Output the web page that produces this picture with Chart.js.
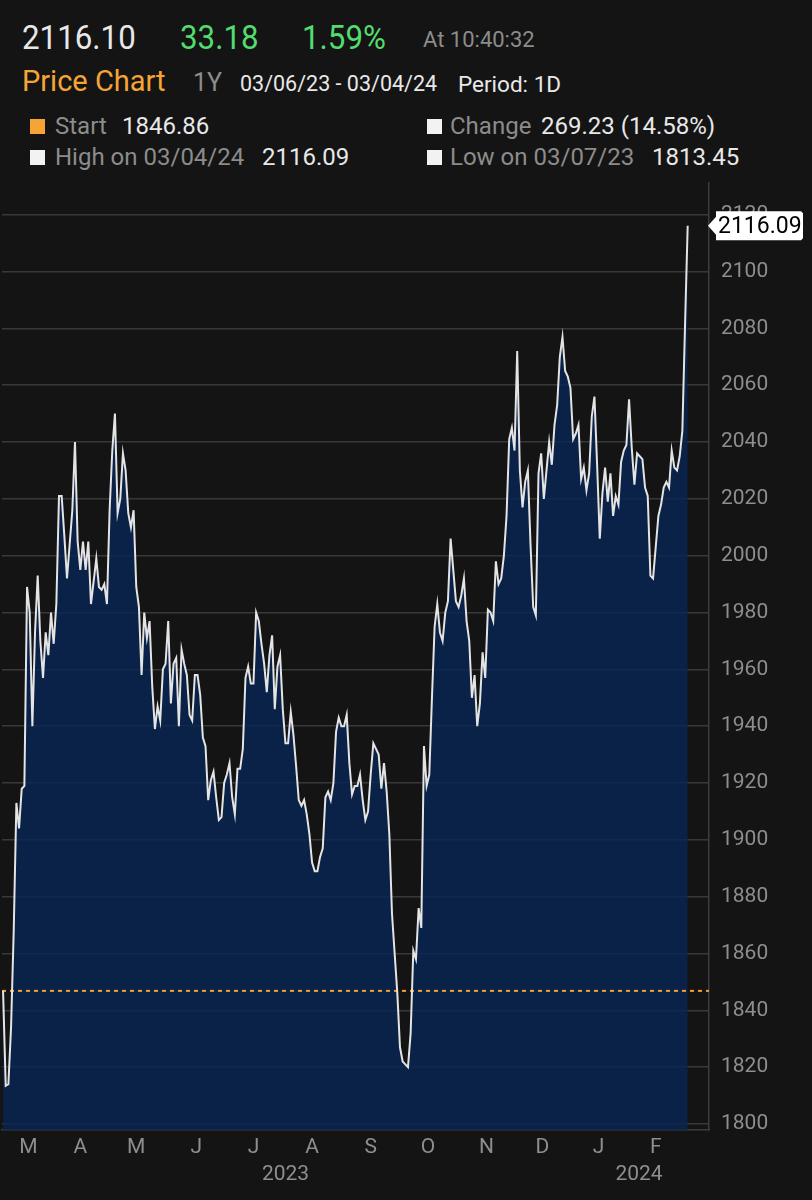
<!DOCTYPE html>
<html>
<head>
<meta charset="utf-8">
<script src="https://cdn.jsdelivr.net/npm/chart.js@4.4.1/dist/chart.umd.min.js"></script>
<style>
  html, body { margin: 0; padding: 0; background: #141414; }
  body { width: 812px; height: 1200px; position: relative; overflow: hidden; font-family: Roboto, 'Liberation Sans', sans-serif; }
  .t { position: absolute; white-space: nowrap; line-height: 1; }
  .big { font-size: 34px; transform: scaleX(0.92); transform-origin: left center; }
  .w { color: #e8e8e8; }
  .g { color: #8c8c8c; }
  .gr { color: #52dc6e; }
  .o { color: #f6a535; }
  .sq { position: absolute; width: 15px; height: 15px; }
  #chart { position: absolute; left: 0; top: 158px; }
</style>
</head>
<body>
  <div class="t w big" style="left:22px; top:20px">2116.10</div>
  <div class="t gr big" style="left:180px; top:20px">33.18</div>
  <div class="t gr big" style="left:302px; top:20px">1.59%</div>
  <div class="t g" style="left:423px; top:29px; font-size:22px">At 10:40:32</div>

  <div class="t o" style="left:22px; top:67px; font-size:29px">Price Chart</div>
  <div class="t g" style="left:193px; top:70px; font-size:25px">1Y</div>
  <div class="t w" style="left:240px; top:73px; font-size:21.5px">03/06/23 - 03/04/24</div>
  <div class="t w" style="left:458px; top:73px; font-size:22.5px">Period: 1D</div>

  <div class="sq" style="left:30px; top:119px; background:#f6a535"></div>
  <div class="t g" style="left:55px; top:114px; font-size:24px">Start</div>
  <div class="t w" style="left:122px; top:114px; font-size:24px">1846.86</div>
  <div class="sq" style="left:427px; top:119px; background:#f2f2f2"></div>
  <div class="t g" style="left:450px; top:114px; font-size:24px">Change</div>
  <div class="t w" style="left:541px; top:114px; font-size:24px">269.23 (14.58%)</div>

  <div class="sq" style="left:30px; top:150px; background:#f2f2f2"></div>
  <div class="t g" style="left:55px; top:145px; font-size:24px">High on 03/04/24</div>
  <div class="t w" style="left:262px; top:145px; font-size:24px">2116.09</div>
  <div class="sq" style="left:427px; top:150px; background:#f2f2f2"></div>
  <div class="t g" style="left:450px; top:145px; font-size:24px">Low on 03/07/23</div>
  <div class="t w" style="left:652px; top:145px; font-size:24px">1813.45</div>

  <canvas id="chart" width="812" height="1042"></canvas>

<script>
// trading days shown on the chart
const dates = [
  '2023-03-06','2023-03-07','2023-03-08','2023-03-09','2023-03-10','2023-03-13','2023-03-14','2023-03-15','2023-03-16','2023-03-17','2023-03-20','2023-03-21','2023-03-22','2023-03-23','2023-03-24','2023-03-27','2023-03-28','2023-03-29','2023-03-30','2023-03-31',
  '2023-04-03','2023-04-04','2023-04-05','2023-04-06','2023-04-10','2023-04-11','2023-04-12','2023-04-13','2023-04-14','2023-04-17','2023-04-18','2023-04-19','2023-04-20','2023-04-21','2023-04-24','2023-04-25','2023-04-26','2023-04-27','2023-04-28',
  '2023-05-01','2023-05-02','2023-05-03','2023-05-04','2023-05-05','2023-05-08','2023-05-09','2023-05-10','2023-05-11','2023-05-12','2023-05-15','2023-05-16','2023-05-17','2023-05-18','2023-05-19','2023-05-22','2023-05-23','2023-05-24','2023-05-25','2023-05-26','2023-05-29','2023-05-30','2023-05-31',
  '2023-06-01','2023-06-02','2023-06-05','2023-06-06','2023-06-07','2023-06-08','2023-06-09','2023-06-12','2023-06-13','2023-06-14','2023-06-15','2023-06-16','2023-06-19','2023-06-20','2023-06-21','2023-06-22','2023-06-23','2023-06-26','2023-06-27','2023-06-28','2023-06-29','2023-06-30',
  '2023-07-03','2023-07-04','2023-07-05','2023-07-06','2023-07-07','2023-07-10','2023-07-11','2023-07-12','2023-07-13','2023-07-14','2023-07-17','2023-07-18','2023-07-19','2023-07-20','2023-07-21','2023-07-24','2023-07-25','2023-07-26','2023-07-27','2023-07-28','2023-07-31',
  '2023-08-01','2023-08-02','2023-08-03','2023-08-04','2023-08-07','2023-08-08','2023-08-09','2023-08-10','2023-08-11','2023-08-14','2023-08-15','2023-08-16','2023-08-17','2023-08-18','2023-08-21','2023-08-22','2023-08-23','2023-08-24','2023-08-25','2023-08-28','2023-08-29','2023-08-30','2023-08-31',
  '2023-09-01','2023-09-04','2023-09-05','2023-09-06','2023-09-07','2023-09-08','2023-09-11','2023-09-12','2023-09-13','2023-09-14','2023-09-15','2023-09-18','2023-09-19','2023-09-20','2023-09-21','2023-09-22','2023-09-25','2023-09-26','2023-09-27','2023-09-28','2023-09-29',
  '2023-10-02','2023-10-03','2023-10-04','2023-10-05','2023-10-06','2023-10-09','2023-10-10','2023-10-11','2023-10-12','2023-10-13','2023-10-16','2023-10-17','2023-10-18','2023-10-19','2023-10-20','2023-10-23','2023-10-24','2023-10-25','2023-10-26','2023-10-27','2023-10-30','2023-10-31',
  '2023-11-01','2023-11-02','2023-11-03','2023-11-06','2023-11-07','2023-11-08','2023-11-09','2023-11-10','2023-11-13','2023-11-14','2023-11-15','2023-11-16','2023-11-17','2023-11-20','2023-11-21','2023-11-22','2023-11-23','2023-11-24','2023-11-27','2023-11-28','2023-11-29','2023-11-30',
  '2023-12-01','2023-12-04','2023-12-05','2023-12-06','2023-12-07','2023-12-08','2023-12-11','2023-12-12','2023-12-13','2023-12-14','2023-12-15','2023-12-18','2023-12-19','2023-12-20','2023-12-21','2023-12-22','2023-12-26','2023-12-27','2023-12-28','2023-12-29',
  '2024-01-02','2024-01-03','2024-01-04','2024-01-05','2024-01-08','2024-01-09','2024-01-10','2024-01-11','2024-01-12','2024-01-15','2024-01-16','2024-01-17','2024-01-18','2024-01-19','2024-01-22','2024-01-23','2024-01-24','2024-01-25','2024-01-26','2024-01-29','2024-01-30','2024-01-31',
  '2024-02-01','2024-02-02','2024-02-05','2024-02-06','2024-02-07','2024-02-08','2024-02-09','2024-02-12','2024-02-13','2024-02-14','2024-02-15','2024-02-16','2024-02-19','2024-02-20','2024-02-21','2024-02-22','2024-02-23','2024-02-26','2024-02-27','2024-02-28','2024-02-29',
  '2024-03-01','2024-03-04'
]

// daily closes
const prices = [
  1846.86, 1813.45, 1814, 1834, 1868, 1913, 1904, 1918, 1919, 1989, 1980, 1940, 1973, 1993, 1970, 1957, 1973, 1965, 1980, 1969,
  1983, 2021, 2021, 2007, 1992, 2004, 2016, 2040, 2005, 1995, 2005, 1995, 2005, 1983, 1991, 1999, 1989, 1988, 1990,
  1983, 2016, 2037, 2050, 2015, 2020, 2036, 2030, 2015, 2010, 2016, 1989, 1982, 1958, 1980, 1971, 1977, 1954, 1939, 1947, 1942, 1960, 1962,
  1977, 1948, 1962, 1964, 1940, 1967, 1962, 1958, 1944, 1942, 1958, 1958, 1951, 1936, 1933, 1914, 1921, 1924, 1915, 1907, 1908, 1920,
  1923, 1927, 1915, 1909, 1925, 1925, 1932, 1957, 1961, 1955, 1955, 1980, 1977, 1969, 1962, 1952, 1965, 1972, 1946, 1961, 1965,
  1946, 1934, 1934, 1945, 1937, 1926, 1914, 1912, 1914, 1909, 1902, 1892, 1889, 1889, 1894, 1897, 1915, 1917, 1914, 1920, 1938, 1943, 1940,
  1940, 1944, 1927, 1916, 1919, 1919, 1923, 1914, 1907, 1910, 1923, 1934, 1932, 1930, 1918, 1927, 1917, 1902, 1874, 1860, 1846,
  1827, 1822, 1821, 1820, 1832, 1861, 1858, 1876, 1869, 1933, 1919, 1923, 1950, 1975, 1983, 1973, 1970, 1980, 1984, 2006, 1995, 1984,
  1982, 1986, 1992, 1977, 1970, 1950, 1958, 1940, 1948, 1966, 1957, 1981, 1980, 1977, 1998, 1990, 1992, 2000, 2014, 2041, 2045, 2037,
  2072, 2030, 2017, 2026, 2030, 2004, 1982, 1979, 2029, 2036, 2020, 2030, 2040, 2032, 2046, 2053, 2070, 2077, 2065, 2063,
  2059, 2041, 2043, 2046, 2027, 2031, 2023, 2029, 2049, 2056, 2032, 2006, 2022, 2031, 2019, 2029, 2014, 2021, 2018, 2033, 2037, 2039,
  2055, 2038, 2025, 2036, 2035, 2034, 2024, 2021, 1993, 1992, 2003, 2014, 2018, 2024, 2026, 2024, 2037, 2031, 2030, 2035, 2044,
  2081, 2116.09
]

const startPrice = 1846.86
const yTicks = [1800, 1820, 1840, 1860, 1880, 1900, 1920, 1940, 1960, 1980, 2000, 2020, 2040, 2060, 2080, 2100, 2120]
const monthLabels = ['M', 'A', 'M', 'J', 'J', 'A', 'S', 'O', 'N', 'D', 'J', 'F']
const yearLabels = ['2023', '2024']

const FONT = "Roboto, 'Liberation Sans', sans-serif"
const xMin = -0.4
const xMax = 265

// group consecutive trading days by a date prefix (month or year)
function groups(prefixLen) {
  let out = []
  dates.forEach((d, i) => {
    let key = d.slice(0, prefixLen)
    let last = out[out.length - 1]
    if (last && last.key == key) last.end = i
    else out.push({ key: key, start: i, end: i })
  })
  return out
}

const monthTicks = groups(7)
  .filter(g => g.end - g.start >= 4)
  .map(g => (g.start + g.end) / 2)

const yearTicks = groups(4).map(g => {
  let lo = g.start == 0 ? xMin : g.start - 0.5
  let hi = g.end == dates.length - 1 ? xMax : g.end + 0.5
  return (lo + hi) / 2
})

const overlay = {
  id: 'overlay',
  beforeDatasetsDraw(chart) {
    const { ctx, chartArea, scales } = chart
    let y = scales.y.getPixelForValue(startPrice)
    ctx.save()
    ctx.strokeStyle = '#f3a23a'
    ctx.lineWidth = 2
    ctx.setLineDash([4, 4])
    ctx.beginPath()
    ctx.moveTo(chartArea.left, y)
    ctx.lineTo(chartArea.right, y)
    ctx.stroke()
    ctx.restore()
  },
  afterDraw(chart) {
    const { ctx, chartArea, scales } = chart
    let last = prices[prices.length - 1]
    let y = scales.y.getPixelForValue(last)
    let x = chartArea.right
    ctx.save()
    ctx.fillStyle = '#ffffff'
    ctx.beginPath()
    ctx.moveTo(x - 1, y)
    ctx.lineTo(x + 7, y - 9)
    ctx.lineTo(x + 7, y - 14.5)
    ctx.lineTo(x + 92, y - 14.5)
    ctx.lineTo(x + 94, y - 12.5)
    ctx.lineTo(x + 94, y + 12.5)
    ctx.lineTo(x + 92, y + 14.5)
    ctx.lineTo(x + 7, y + 14.5)
    ctx.lineTo(x + 7, y + 9)
    ctx.closePath()
    ctx.fill()
    ctx.fillStyle = '#000000'
    ctx.font = '23px ' + FONT
    ctx.textBaseline = 'middle'
    ctx.textAlign = 'left'
    ctx.fillText(last.toFixed(2), x + 9, y + 1)
    ctx.restore()
  }
}

const tickFont = { family: FONT, size: 21 }

new Chart(document.getElementById('chart'), {
  type: 'line',
  data: {
    datasets: [{
      data: prices.map((p, i) => ({ x: i, y: p })),
      borderColor: '#e4e4e4',
      borderWidth: 2,
      pointRadius: 0,
      tension: 0,
      fill: 'start',
      backgroundColor: 'rgba(9, 38, 83, 0.82)'
    }]
  },
  options: {
    responsive: false,
    animation: false,
    layout: { padding: { left: 2, top: 0, right: 0, bottom: 0 } },
    plugins: {
      legend: { display: false },
      tooltip: { enabled: false },
      filler: { drawTime: 'beforeDatasetsDraw' }
    },
    scales: {
      x: {
        type: 'linear',
        position: 'bottom',
        weight: 0,
        min: xMin,
        max: xMax,
        grid: { display: false, drawTicks: false },
        border: { display: true, color: '#3c3c3c', width: 1.5 },
        afterBuildTicks: s => { s.ticks = monthTicks.map(v => ({ value: v })) },
        afterFit: s => { s.height = 30 },
        ticks: {
          autoSkip: false,
          maxRotation: 0,
          padding: 5,
          color: '#8e8e8e',
          font: tickFont,
          callback: (v, i) => monthLabels[i]
        }
      },
      x2: {
        type: 'linear',
        position: 'bottom',
        weight: 1,
        min: xMin,
        max: xMax,
        grid: { display: false, drawTicks: false },
        border: { display: false },
        afterBuildTicks: s => { s.ticks = yearTicks.map(v => ({ value: v })) },
        afterFit: s => { s.height = 40 },
        ticks: {
          autoSkip: false,
          maxRotation: 0,
          padding: 2,
          color: '#8e8e8e',
          font: tickFont,
          callback: (v, i) => yearLabels[i]
        }
      },
      y: {
        position: 'right',
        min: 1797.9,
        max: 2131.3,
        grid: { color: '#383838', lineWidth: 1.5, drawTicks: false },
        border: { display: true, color: '#3c3c3c', width: 1.5 },
        afterBuildTicks: s => { s.ticks = yTicks.map(v => ({ value: v })) },
        afterFit: s => { s.width = 103 },
        ticks: {
          padding: 12,
          color: '#8e8e8e',
          font: tickFont,
          callback: v => String(v)
        }
      }
    }
  },
  plugins: [overlay]
})
</script>
</body>
</html>
